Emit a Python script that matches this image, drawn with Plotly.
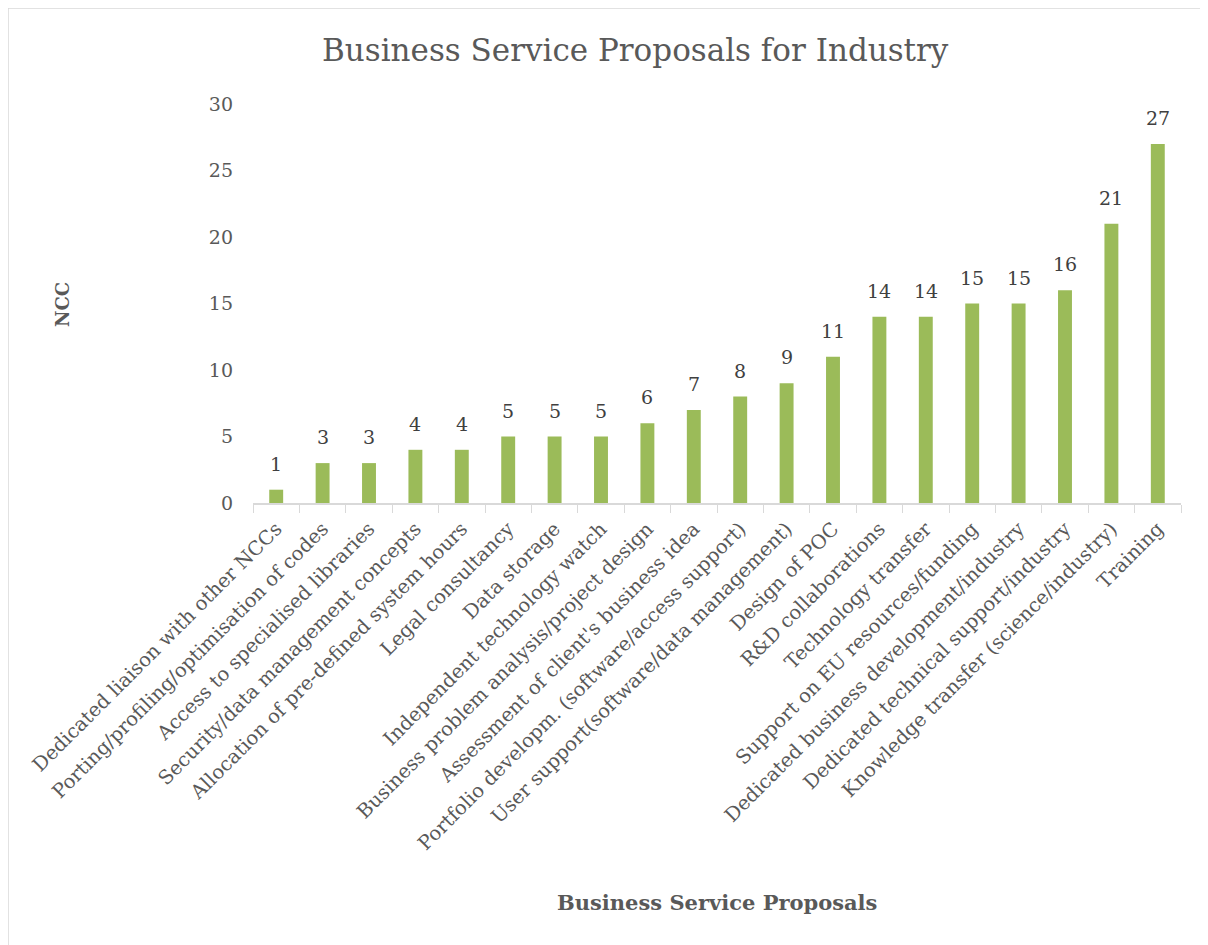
import plotly.graph_objects as go

categories = [
    "Dedicated liaison with other NCCs",
    "Porting/profiling/optimisation of codes",
    "Access to specialised libraries",
    "Security/data management concepts",
    "Allocation of pre-defined system hours",
    "Legal consultancy",
    "Data storage",
    "Independent technology watch",
    "Business problem analysis/project design",
    "Assessment of client's business idea",
    "Portfolio developm. (software/access support)",
    "User support(software/data management)",
    "Design of POC",
    "R&D collaborations",
    "Technology transfer",
    "Support on EU resources/funding",
    "Dedicated business development/industry",
    "Dedicated technical support/industry",
    "Knowledge transfer (science/industry)",
    "Training",
]
values = [1, 3, 3, 4, 4, 5, 5, 5, 6, 7, 8, 9, 11, 14, 14, 15, 15, 16, 21, 27]
y_ticks = [0, 5, 10, 15, 20, 25, 30]

# page has an 8px body margin: figure is placed at (8, 8)
OFF = 8
W, H = 1208 - OFF, 945 - OFF
L, R, T, B = 253 - OFF, 27, 104 - OFF, 442
pw, ph = W - L - R, H - T - B

FONT = "DejaVu Serif"
GRAY = "#595959"


def px(xp):
    return (xp - OFF - L) / pw


def py(yp):
    return (H - B - (yp - OFF)) / ph


fig = go.Figure(go.Bar(
    x=categories, y=values,
    marker=dict(color="#9BBB59", line=dict(width=0)),
    cliponaxis=False,
))

value_labels = [
    dict(x=c, y=v, xref="x", yref="y", text=str(v), showarrow=False,
         xanchor="center", yanchor="middle", yshift=26,
         font=dict(family=FONT, size=19, color="#404040"))
    for c, v in zip(categories, values)
]

fig.update_layout(
    width=W, height=H,
    margin=dict(l=L, r=R, t=T, b=B, autoexpand=False),
    paper_bgcolor="white", plot_bgcolor="white",
    showlegend=False, bargap=0.7,
    font=dict(family=FONT, color=GRAY),
    xaxis=dict(
        tickangle=-45, tickfont=dict(family=FONT, size=19.5, color=GRAY),
        showline=True, linecolor="#D9D9D9", linewidth=1.5,
        ticks="outside", tickson="boundaries", ticklen=8, tickcolor="#D9D9D9",
        showgrid=False, zeroline=False, ticklabelstandoff=5,
    ),
    yaxis=dict(
        range=[0, 30], tickvals=y_ticks, ticks="", showgrid=False,
        zeroline=False, showline=False,
        tickfont=dict(family=FONT, size=19, color=GRAY), ticklabelstandoff=19,
    ),
    annotations=value_labels + [
        dict(text="Business Service Proposals for Industry", x=px(635), y=py(50),
             xref="paper", yref="paper", showarrow=False, xanchor="center", yanchor="middle",
             font=dict(family=FONT, size=31, color=GRAY)),
        dict(text="<b>NCC</b>", x=px(62), y=py(305), textangle=-90,
             xref="paper", yref="paper", showarrow=False, xanchor="center", yanchor="middle",
             font=dict(family=FONT, size=18, color=GRAY)),
        dict(text="<b>Business Service Proposals</b>", x=px(717), y=py(902),
             xref="paper", yref="paper", showarrow=False, xanchor="center", yanchor="middle",
             font=dict(family=FONT, size=21, color=GRAY)),
    ],
    shapes=[
        dict(type="rect", xref="paper", yref="paper",
             x0=px(OFF), x1=px(1240), y0=py(980), y1=py(OFF),
             line=dict(color="#D9D9D9", width=1.5), fillcolor="rgba(0,0,0,0)", layer="below"),
    ],
)

fig.write_html("out.html")
